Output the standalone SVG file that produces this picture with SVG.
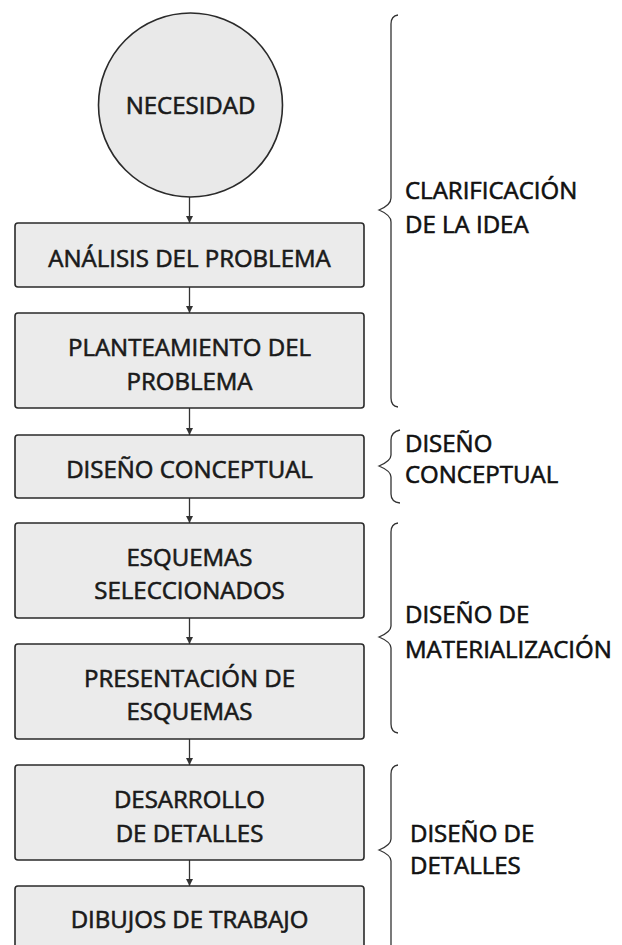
<svg xmlns="http://www.w3.org/2000/svg" width="622" height="945" viewBox="0 0 622 945">
<defs>
<marker id="ah" viewBox="0 0 10 10" refX="10" refY="5" markerWidth="7" markerHeight="7" markerUnits="userSpaceOnUse" orient="auto">
<path d="M0,0 L10,5 L0,10 z" fill="#333"/>
</marker>
<style>
.box{fill:#ebebeb;stroke:#2a2a2a;stroke-width:1.6}
.t{font-family:"Open Sans","Liberation Sans",sans-serif;font-size:24px;fill:#1a1a1a;stroke:#1a1a1a;stroke-width:0.6;text-anchor:middle}
.g{font-family:"Open Sans","Liberation Sans",sans-serif;font-size:24px;fill:#111;stroke:#111;stroke-width:0.6}
.br{fill:none;stroke:#333;stroke-width:1.3}
.c{stroke:#333;stroke-width:1.3;fill:none;marker-end:url(#ah)}
</style>
</defs>
<rect width="622" height="945" fill="#fff"/>
<g id="connectors">
<line class="c" x1="189.5" y1="197" x2="189.5" y2="223"/>
<line class="c" x1="189.5" y1="287" x2="189.5" y2="313"/>
<line class="c" x1="189.5" y1="408" x2="189.5" y2="435"/>
<line class="c" x1="189.5" y1="498" x2="189.5" y2="523"/>
<line class="c" x1="189.5" y1="618" x2="189.5" y2="644"/>
<line class="c" x1="189.5" y1="739" x2="189.5" y2="765"/>
<line class="c" x1="189.5" y1="860" x2="189.5" y2="886"/>
</g>
<g id="necesidad">
<circle cx="190.5" cy="105" r="92" fill="#e9e9e9" stroke="#2a2a2a" stroke-width="1.6"/>
<text class="t" x="190.5" y="114">NECESIDAD</text>
</g>
<g id="analisis">
<rect class="box" x="15" y="223" width="349" height="64" rx="3"/>
<text class="t" x="189.5" y="267">ANÁLISIS DEL PROBLEMA</text>
</g>
<g id="planteamiento">
<rect class="box" x="15" y="313" width="349" height="95" rx="3"/>
<text class="t" x="189.5" y="356">PLANTEAMIENTO DEL</text>
<text class="t" x="189.5" y="390">PROBLEMA</text>
</g>
<g id="conceptual">
<rect class="box" x="15" y="435" width="349" height="63" rx="3"/>
<text class="t" x="189.5" y="478">DISEÑO CONCEPTUAL</text>
</g>
<g id="esquemas">
<rect class="box" x="15" y="523" width="349" height="95" rx="3"/>
<text class="t" x="189.5" y="566">ESQUEMAS</text>
<text class="t" x="189.5" y="599">SELECCIONADOS</text>
</g>
<g id="presentacion">
<rect class="box" x="15" y="644" width="349" height="95" rx="3"/>
<text class="t" x="189.5" y="687">PRESENTACIÓN DE</text>
<text class="t" x="189.5" y="720">ESQUEMAS</text>
</g>
<g id="desarrollo">
<rect class="box" x="15" y="765" width="349" height="95" rx="3"/>
<text class="t" x="189.5" y="808">DESARROLLO</text>
<text class="t" x="189.5" y="842">DE DETALLES</text>
</g>
<g id="dibujos">
<rect class="box" x="15" y="886" width="349" height="80" rx="3"/>
<text class="t" x="189.5" y="928">DIBUJOS DE TRABAJO</text>
</g>
<g id="brace-clarificacion">
<path class="br" d="M398,15 Q391,16 391,24 L391,198 Q391,205 379,210 Q391,215 391,222 L391,398 Q391,406 398,407"/>
<text class="g" x="405" y="199">CLARIFICACIÓN</text>
<text class="g" x="405" y="233">DE LA IDEA</text>
</g>
<g id="brace-conceptual">
<path class="br" d="M400,430 Q391,432 391,440 L391,455 Q391,461 379,466 Q391,471 391,477 L391,494 Q391,502 400,503"/>
<text class="g" x="405" y="452">DISEÑO</text>
<text class="g" x="405" y="483">CONCEPTUAL</text>
</g>
<g id="brace-materializacion">
<path class="br" d="M398,523 Q391,524 391,532 L391,626 Q391,632 379,637 Q391,642 391,648 L391,724 Q391,732 398,733"/>
<text class="g" x="405" y="623">DISEÑO DE</text>
<text class="g" x="405" y="658">MATERIALIZACIÓN</text>
</g>
<g id="brace-detalles">
<path class="br" d="M398,765 Q391,766 391,774 L391,839 Q391,845 379,850 Q391,855 391,861 L391,960"/>
<text class="g" x="410" y="842">DISEÑO DE</text>
<text class="g" x="410" y="874">DETALLES</text>
</g>
</svg>
